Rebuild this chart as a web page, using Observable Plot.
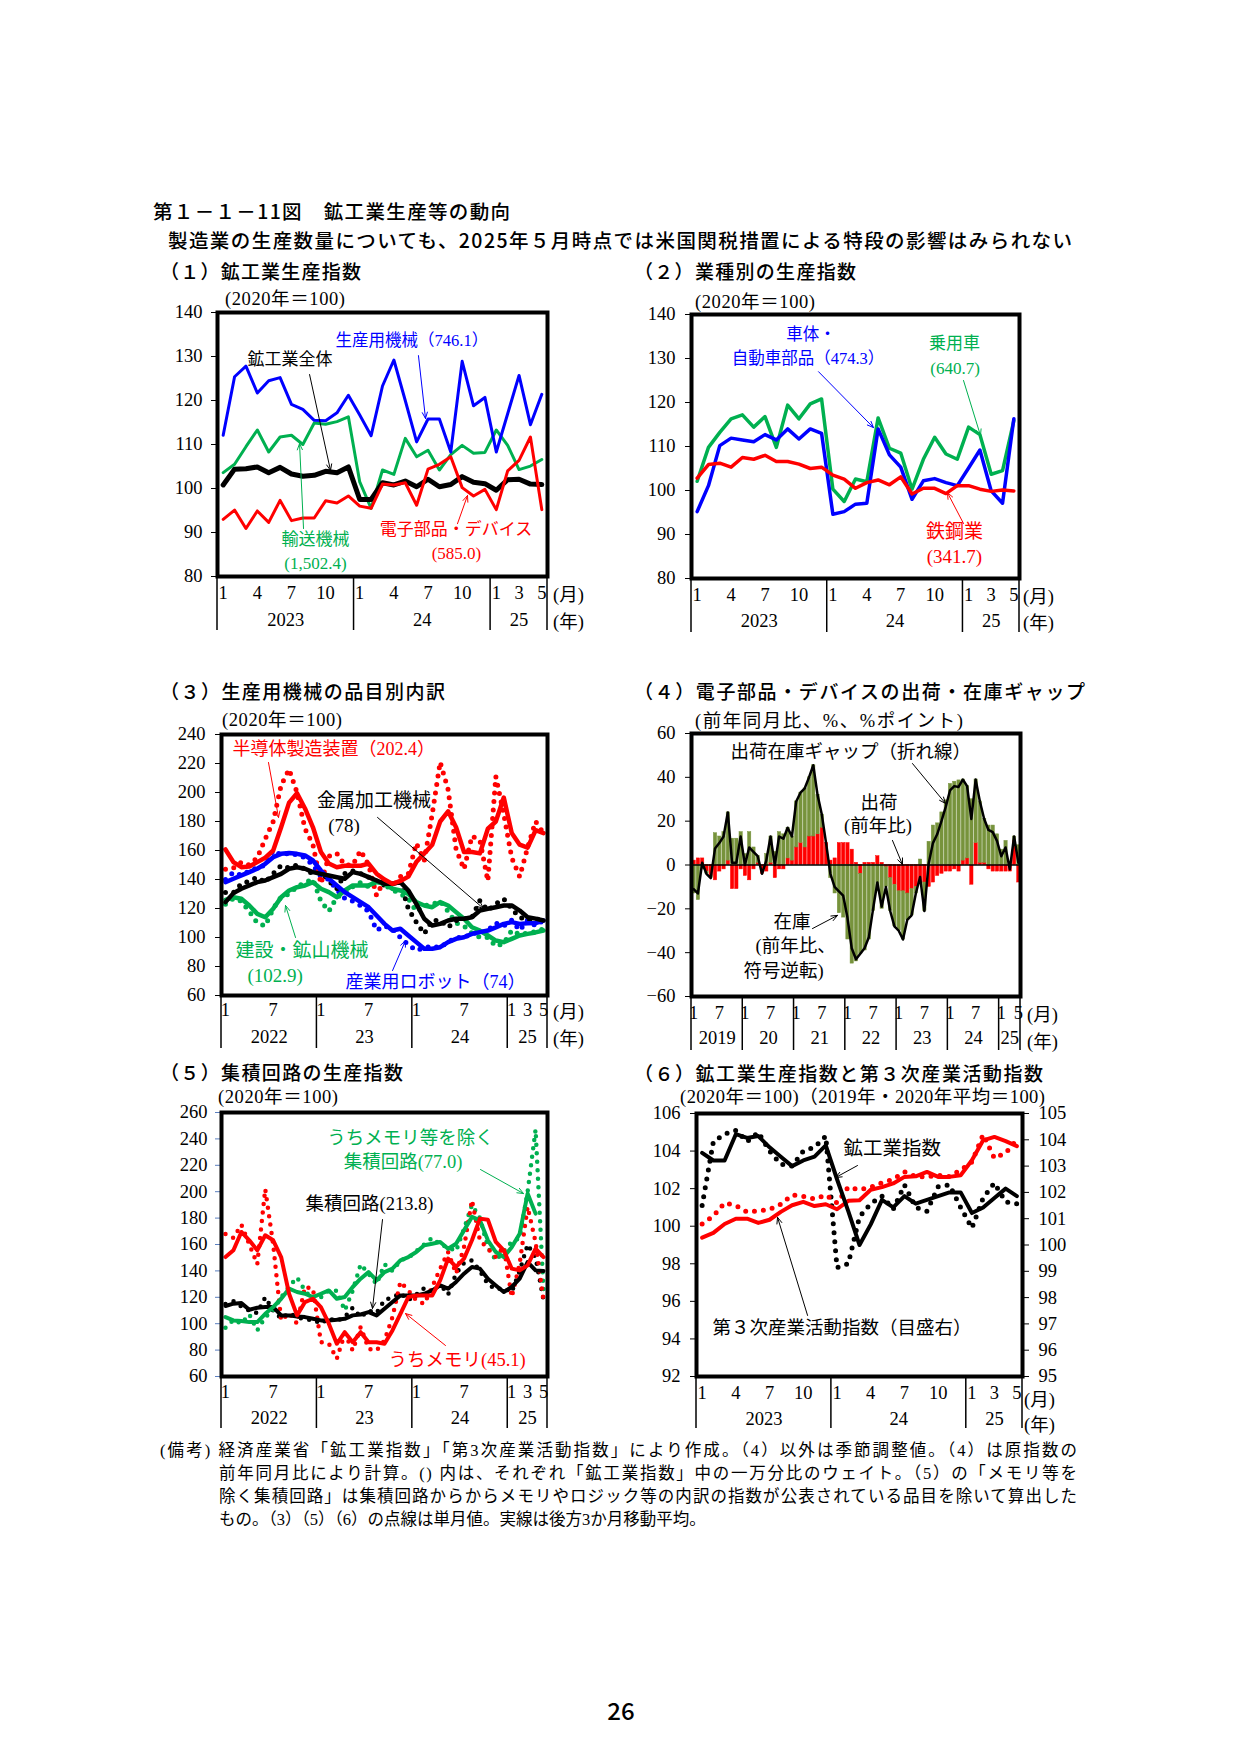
<!DOCTYPE html>
<html><head><meta charset="utf-8">
<script src="https://cdn.jsdelivr.net/npm/d3@7"></script>
<script src="https://cdn.jsdelivr.net/npm/@observablehq/plot@0.6"></script>
<style>
body{margin:0;background:#fff}
#page{position:relative;width:1241px;height:1755px;background:#fff;overflow:hidden}
.t{position:absolute;white-space:nowrap;color:#000;line-height:1}
.goth{font-family:"Noto Sans CJK JP",sans-serif;font-weight:500}
.min{font-family:"Liberation Serif","Noto Sans CJK JP",serif}
.panel{position:absolute}
.panel svg{overflow:visible}
</style></head><body><div id="page"></div>
<script>
// ---------- tick labels ----------
const months29 = [[0,"1"],[3,"4"],[6,"7"],[9,"10"],[12,"1"],[15,"4"],[18,"7"],[21,"10"],[24,"1"],[26,"3"],[28,"5"]];
const years29 = [[6,"2023"],[18,"24"],[26.5,"25"]];
const seps29 = [0,12,24,29];
const months41 = [[0,"1"],[6,"7"],[12,"1"],[18,"7"],[24,"1"],[30,"7"],[36,"1"],[38,"3"],[40,"5"]];
const years41 = [[6,"2022"],[18,"23"],[30,"24"],[38.5,"25"]];
const seps41 = [0,12,24,36,41];
const months77 = [[0,"1"],[6,"7"],[12,"1"],[18,"7"],[24,"1"],[30,"7"],[36,"1"],[42,"7"],[48,"1"],[54,"7"],[60,"1"],[66,"7"],[72,"1"],[76,"5"]];
const years77 = [[6,"2019"],[18,"20"],[30,"21"],[42,"22"],[54,"23"],[66,"24"],[74.5,"25"]];
const seps77 = [0,12,24,36,48,60,72,77];

// ---------- (1) Jan 2023 - May 2025 ----------
const p1Mining = [100.8,104.4,104.5,104.9,103.6,104.8,103.3,102.8,103.0,103.9,103.6,104.9,97.5,97.5,101.3,100.8,101.7,100.4,102.1,100.4,100.9,102.7,101.4,101.1,99.6,102.0,102.1,101.0,100.9];
const p1Machinery = [112.1,125.4,127.8,121.7,124.5,125.2,119.1,118.0,115.5,115.4,117.2,121.2,116.7,112.0,123.3,129.2,120.0,110.6,115.8,115.8,108.3,128.9,118.8,120.7,108.3,117.0,125.7,114.5,121.4];
const p1Transport = [103.6,105.5,109.5,113.3,108.3,111.7,112.1,110.0,114.9,114.6,115.2,116.3,101.5,95.5,104.2,103.2,111.4,107.2,108.7,104.2,107.7,109.8,108.0,108.2,113.3,109.8,104.3,105.1,106.6];
const p1Electronic = [93.0,95.1,90.9,94.9,92.3,97.3,92.7,93.3,93.3,97.2,96.7,98.3,96.0,95.5,101.0,100.8,101.3,96.2,104.4,105.5,107.2,100.2,98.3,99.8,95.2,104.0,106.4,111.7,95.2];

// ---------- (2) ----------
const p2Parts = [95.2,101.1,110.2,111.9,111.5,111.1,112.7,111.5,114.0,111.7,114.0,113.0,94.6,95.2,96.9,97.1,114.0,108.1,105.3,98.0,102.2,102.7,101.8,101.1,105.1,109.2,99.9,97.1,116.3];
const p2Cars = [102.1,109.8,113.2,116.3,117.2,114.4,116.8,109.8,119.4,116.3,119.7,120.8,100.3,97.5,102.6,102.0,116.5,109.6,108.5,100.3,107.1,112.1,108.3,107.1,114.4,112.7,103.7,104.5,115.9];
const p2Steel = [102.8,105.9,106.2,105.3,107.5,107.1,108.0,106.6,106.6,106.0,105.0,105.3,103.5,102.6,100.5,101.8,102.4,101.3,103.1,99.2,100.5,100.5,99.3,101.1,101.1,100.3,99.8,100.1,99.9];

// ---------- (3) Jan 2022 - May 2025 ----------
const p3SemiMA = [160.7,152,148.5,149,152,155,160,176,193,199.5,189,176,159,151,148.5,149.5,149.5,149.5,151,144,140,137,139,142,152,158,164,180,187,176,159,159,158,175,180,196.5,172,164,162,174,172];
const p3Semi = [147,148,152,150,155,168,180,205,216,200,175,164,137,156,158,150,150,160,150,129,140,135,142,144,165,153,185,221,202,161,147,170,167,139,211,185,155,142,162,180,172];
const p3MetalMA = [124.4,130.6,133.6,135.9,138.2,139.3,141.6,143.9,147.4,148.5,147.4,145.1,143.9,142.8,141.6,140.5,145.1,143.9,141.6,139.3,137,137,138.2,132.4,123.2,112.9,108.3,109.4,111.7,112.9,112.9,114,118.6,119.8,120.9,122.1,122.1,118.6,114,113,111.7];
const p3Metal = [131,131,137,139,141.6,138,144,149.7,148,150,147,144,145,139,133.6,144,146,144,141.6,139,136,137,138,119.8,110.6,102.5,111.7,111.7,107,111.7,113,114,125.5,118.6,123.2,126.7,119.8,114,111.7,113,111.7];
const p3RobotMA = [138.2,140.5,142.8,145.1,147.4,150.8,155.4,157.7,158.2,157.7,156.6,153.1,146.2,140.5,135.9,131.3,127.8,124.4,120.9,115.2,109.4,104.8,106,101.4,96.8,92.2,92.2,93.3,96.8,99.1,100.2,102.5,103.7,104.8,107,109.4,110.6,109.4,109.9,110,111.7];
const p3Robot = [140,145,143,146,148,150,160,157,158,157,155,150,142,140,133,127,125,122,118,105,108,106,100,95,91,93,94,93,97,100,100,103,103,105,110,108,112,105,112,108,112];
const p3ConstMA = [126,127.8,126.7,122.1,116.3,114,119.8,127.8,132.4,134.7,135.9,138.2,133.6,131.3,127.8,132.4,135.9,135.9,135.9,138.2,137,133.6,132.4,130.1,124.4,122.1,120.9,124.4,122.1,117.5,112.9,107.1,104.8,101.4,97.9,96.8,99.1,101.4,102.5,103.5,104.8];
const p3Const = [123,127,125,118,110,108,120,128,130,135,138,140,125,118,128,130,135,138,135,140,136,133,130,127,118,122,123,125,118,110,108,103,100,100,94,96,105,102,103,104,106];

// ---------- (4) Jan 2019 - May 2025 ----------
const p4Gap = [-11,-13,1,-4,-6,7.5,10,13,24,1,1,13,0,8,6,4,-4,2,13,0,13,12,17,13,29,33,35,40,45.5,32,23,10,-4,-10,-12,-14,-24,-38,-43,-40.5,-38,-33,-20,-8,-19,-10,-21,-28,-30,-34,-25,-23,-13,-5.5,-21,0.6,10,14,20,26.5,34,36,35.6,39,36,21,39,29,21,16,15,11,4,8,-2,13,1];
const p4Ship = [2,3,3,-3,-5,-7,-3,-2,2,-11,-11,-2,-5,-7,-2,1,-4,-3,1,-6,-2,-2,3,2,8,10,8,13,13,14,17,10,2,3,10,10,10,7,1,-4,1,1,1,4,1,-1,-6,-9,-12,-12,-13,-11,-10,-8,-8,-10,-8,-5,-4,-3,-3,-2,-3,2,3,-9,10,1,1,-2,-3,-3,-3,-3,-3,11,-8];
const p4InvRev = [-13,-16,-2,-1,-1,14.5,13,15,22,12,12,15,5,15,8,3,0,5,12,6,15,14,14,11,21,23,27,27,32.5,18,6,0,-6,-13,-22,-24,-34,-45,-44,-36.5,-39,-34,-21,-12,-20,-9,-15,-19,-18,-22,-12,-12,-3,2.5,-13,10.6,18,19,24,29.5,37,38,38.6,37,33,30,29,28,20,18,18,14,7,11,1,2,9];

// ---------- (5) Jan 2022 - May 2025 ----------
const p5MemMA = [150.5,155.6,169.5,163.2,155.6,167,163.2,150.5,122.7,106.3,116.4,118.9,112.6,100,84.8,93.6,86,93.6,86,86,84.8,94.9,107.5,120.2,121.4,121.4,121.4,132.8,149.3,143,149.3,163.2,179.6,178.8,161.9,155.6,141.7,140.4,144.2,156.8,150.5];
const p5Mem = [168,165,175,160,145,202,160,102.5,108,100,127.8,126.5,86,85,73.4,92.4,79.7,97.4,81,79.7,87.3,105,131.6,125.2,117.6,115,127.8,141.7,154.3,137.9,158,193.5,163.2,156.8,150.5,158,120.2,145.5,188.4,161.9,117.6];
const p5IcMA = [113.4,115.2,115.6,110.6,112.1,112.6,112.6,106.3,106.3,105.5,105,103.7,102.5,102.5,103,103.7,106.3,107,108.8,106.3,111.3,116.4,121.4,121.4,121.4,122.7,125.2,129,126.5,131.6,137.9,143,141.7,134.1,129,124,127.8,134.1,146.7,140.4,140];
const p5Ic = [115,117,113,110,108,120,110,104,108,105,103,103,100,104,102,105,112,105,110,108,118,120,123,118,122,127,125,130,122,138,146,148,140,130,126,127,124,140,160,150,118];
const p5ExMA = [105,102.5,102,101.2,101.2,107.5,112.6,118.9,126.5,124,122.7,120.2,122.7,125.2,118.9,120.2,127.8,134.1,139.1,132.8,139.1,141.7,148,150.5,154.3,159.4,160.6,161.9,156.8,160.6,170.7,180.9,178.3,163.2,154.3,150.5,158,168.2,198.6,183.4,null];
const p5Ex = [97,103,100,107,95,105,110,120,128,135,125,118,120,125,125,110,125,145,138,130,145,140,148,150,155,160,165,160,158,155,172,190,180,158,148,155,162,165,200,247,125];

// ---------- (6) Jan 2023 - May 2025 ----------
const p6MineMA = [103.9,103.5,103.5,104.9,104.7,104.8,104.2,103.7,103.2,103.5,103.7,104.3,102.5,100.8,99.0,100.1,101.4,101.0,101.6,101.2,101.4,101.6,101.8,101.8,100.7,101.0,101.5,102.0,101.6];
const p6Mine = [101.1,104.5,104.9,105.1,104.5,105.0,104.0,103.3,103.2,104.0,104.2,104.8,97.8,98.0,100.5,101.2,101.6,100.9,102.2,101.0,100.8,102.1,102.2,101.0,99.9,101.5,102.3,101.3,101.2];
const p6TertMA = [100.28,100.46,100.8,101.0,101.0,100.84,100.96,101.26,101.51,101.64,101.48,101.55,101.36,101.68,101.7,102.1,102.2,102.34,102.59,102.61,102.78,102.59,102.59,102.65,103.22,103.98,104.11,103.95,103.76];
const p6Tert = [100.8,101.1,101.6,101.5,101.25,101.3,101.35,101.55,101.9,101.85,101.75,101.9,101.6,102.2,102.1,102.2,102.37,102.5,102.78,102.6,102.59,102.65,102.6,102.85,103.16,104.2,103.3,103.5,104.0];

// ---------- helpers ----------
const FONT = "'Liberation Serif','Noto Sans CJK JP',serif";
const FS = 18.5;
const RED = "#ff0000", BLUE = "#0000ff", GREEN = "#00b050", OLIVE = "#77933c";
const ns = "http://www.w3.org/2000/svg";
const page = document.getElementById("page");
const ser = arr => arr.map((v, i) => ({i, v}));

function addText(txt, x, y, o = {}) {
  const d = document.createElement("div");
  d.className = "t " + (o.cls || "min");
  d.textContent = txt;
  d.style.fontSize = (o.size || FS) + "px";
  d.style.color = o.color || "#000";
  page.appendChild(d);
  if (o.width) {
    const w0 = d.getBoundingClientRect().width;
    const n = [...txt].length;
    d.style.letterSpacing = ((o.width - w0) / (n - 1)) + "px";
  }
  const r = d.getBoundingClientRect();
  let left = x;
  if (o.anchor === "middle") left = x - r.width / 2;
  if (o.anchor === "end") left = x - r.width;
  d.style.left = left + "px";
  d.style.top = (y - r.height / 2) + "px";
}

function sepMark(xs, len) {
  return (index, scales, values, dims) => {
    const g = document.createElementNS(ns, "g");
    const y0 = dims.height - dims.marginBottom;
    for (const v of xs) {
      const x = scales.x(v);
      const l = document.createElementNS(ns, "line");
      l.setAttribute("x1", x); l.setAttribute("x2", x);
      l.setAttribute("y1", y0); l.setAttribute("y2", y0 + len);
      l.setAttribute("stroke", "#000"); l.setAttribute("stroke-width", "1.5");
      g.appendChild(l);
    }
    return g;
  };
}

function solid(arr, color, w, yf) {
  return Plot.lineY(ser(arr), {x: d => d.i + 0.5, y: yf || "v", stroke: color, strokeWidth: w, strokeLinejoin: "round", strokeLinecap: "round"});
}
function dotted(arr, color, w, gap, yf) {
  return Plot.lineY(ser(arr), {x: d => d.i + 0.5, y: yf || "v", stroke: color, strokeWidth: w, strokeDasharray: "0 " + gap, strokeLinecap: "round"});
}
function notes(texts, arrows) {
  const m = [];
  for (const a of arrows) m.push(Plot.arrow([a], {x1: "x1", y1: "y1", x2: "x2", y2: "y2", stroke: a.c || "#000", strokeWidth: 1, headLength: 10, headAngle: 45}));
  for (const t of texts) m.push(Plot.text([t], {x: "x", y: "y", text: "t", fill: t.c || "#000", textAnchor: t.a || "start", fontSize: t.s || 17}));
  return m;
}

function makePanel(p) {
  const [L, R, T, B] = p.frame;
  const chart = Plot.plot({
    width: p.width, height: p.height,
    marginLeft: L - p.left, marginRight: p.left + p.width - R,
    marginTop: T - p.top, marginBottom: p.top + p.height - B,
    x: {domain: [0, p.n], axis: null},
    y: {domain: p.yDomain, axis: null, label: null},
    color: p.color,
    style: {fontFamily: FONT, fontSize: FS + "px", color: "#000", background: "transparent", overflow: "visible"},
    marks: [
      ...p.marks,
      Plot.axisY({ticks: p.yTicks, tickSize: 6, tickPadding: p.pad, fontSize: FS, stroke: p.tickColor || "#000", label: null}),
      ...(p.extra || []),
      Plot.text(p.months, {x: d => d[0] + 0.5, text: d => d[1], frameAnchor: "bottom", dy: p.mdy + 5, fontSize: FS}),
      Plot.text(p.years, {x: d => d[0], text: d => d[1], frameAnchor: "bottom", dy: p.ydy + 5, fontSize: FS}),
      sepMark(p.seps, p.sepLen),
      Plot.frame({stroke: "#000", strokeWidth: 4}),
      ...(p.notes || [])
    ]
  });
  const holder = document.createElement("div");
  holder.className = "panel";
  holder.style.left = p.left + "px";
  holder.style.top = p.top + "px";
  holder.appendChild(chart);
  page.appendChild(holder);
}

// ---------- header ----------
addText("第１－１－11図　鉱工業生産等の動向", 153, 211, {cls: "goth", size: 19.5, width: 357});
addText("製造業の生産数量についても、2025年５月時点では米国関税措置による特段の影響はみられない", 168, 240, {cls: "goth", size: 19.5, width: 904});
addText("（１）鉱工業生産指数", 160, 270, {cls: "goth", size: 19, width: 201});
addText("（２）業種別の生産指数", 634, 270, {cls: "goth", size: 19, width: 222});
addText("（３）生産用機械の品目別内訳", 160, 690, {cls: "goth", size: 19, width: 285});
addText("（４）電子部品・デバイスの出荷・在庫ギャップ", 634, 690, {cls: "goth", size: 19, width: 451});
addText("（５）集積回路の生産指数", 160, 1071, {cls: "goth", size: 19, width: 243});
addText("（６）鉱工業生産指数と第３次産業活動指数", 634, 1072, {cls: "goth", size: 19, width: 409});

// unit labels
addText("(2020年＝100)", 225, 299, {width: 120});
addText("(2020年＝100)", 695, 302, {width: 120});
addText("(2020年＝100)", 222, 720, {width: 120});
addText("(前年同月比、%、%ポイント)", 695, 721, {width: 268});
addText("(2020年＝100)", 218, 1097, {width: 120});
addText("(2020年＝100)（2019年・2020年平均＝100)", 680, 1097, {width: 365});
for (const [x, y1, y2] of [[553, 595, 622], [1023, 597, 623], [553, 1012, 1039], [1027, 1015, 1042], [1024, 1400, 1425]]) {
  addText("(月)", x, y1);
  addText("(年)", x, y2);
}

// ---------- panel 1 ----------
makePanel({
  left: 140, top: 302, width: 460, height: 340, frame: [217, 547, 312, 576],
  n: 29, yDomain: [80, 140], yTicks: d3.range(80, 141, 10), pad: 9,
  months: months29, years: years29, seps: seps29, mdy: 17, ydy: 44, sepLen: 54,
  marks: [solid(p1Transport, GREEN, 3), solid(p1Machinery, BLUE, 3), solid(p1Mining, "#000", 5), solid(p1Electronic, RED, 3)],
  notes: notes([
    {x: 10.37, y: 133.6, t: "生産用機械（746.1）", c: BLUE, s: 16.5},
    {x: 2.64, y: 129.3, t: "鉱工業全体"},
    {x: 8.61, y: 88.4, t: "輸送機械", c: GREEN, a: "middle"},
    {x: 8.61, y: 83.0, t: "(1,502.4)", c: GREEN, a: "middle"},
    {x: 20.96, y: 90.7, t: "電子部品・デバイス", c: RED, a: "middle"},
    {x: 21.0, y: 85.2, t: "(585.0)", c: RED, a: "middle"}
  ], [
    {x1: 17.66, y1: 130.2, x2: 18.28, y2: 115.9, c: BLUE},
    {x1: 8.09, y1: 125.9, x2: 9.93, y2: 104.1},
    {x1: 7.56, y1: 90.9, x2: 7.21, y2: 110.2, c: GREEN},
    {x1: 21.09, y1: 92.0, x2: 21.97, y2: 98.4, c: RED}
  ])
});

// ---------- panel 2 ----------
makePanel({
  left: 615, top: 304, width: 475, height: 340, frame: [691, 1019, 314, 578],
  n: 29, yDomain: [80, 140], yTicks: d3.range(80, 141, 10), pad: 10,
  months: months29, years: years29, seps: seps29, mdy: 17, ydy: 43, sepLen: 54,
  marks: [solid(p2Cars, GREEN, 3.5), solid(p2Parts, BLUE, 3.5), solid(p2Steel, RED, 3.5)],
  notes: notes([
    {x: 10.57, y: 135.5, t: "車体・", c: BLUE, a: "middle", s: 16.5},
    {x: 10.30, y: 130.0, t: "自動車部品（474.3）", c: BLUE, a: "middle", s: 16.5},
    {x: 23.25, y: 133.4, t: "乗用車", c: GREEN, a: "middle"},
    {x: 23.3, y: 127.7, t: "(640.7)", c: GREEN, a: "middle"},
    {x: 23.25, y: 90.5, t: "鉄鋼業", c: RED, a: "middle", s: 19},
    {x: 23.25, y: 84.8, t: "(341.7)", c: RED, a: "middle", s: 19}
  ], [
    {x1: 11.23, y1: 127.0, x2: 16.09, y2: 114.3, c: BLUE},
    {x1: 24.05, y1: 125.0, x2: 25.55, y2: 112.5, c: GREEN},
    {x1: 24.05, y1: 92.5, x2: 22.63, y2: 99.5, c: RED}
  ])
});

// ---------- panel 3 ----------
makePanel({
  left: 140, top: 725, width: 460, height: 330, frame: [221, 547, 734, 995],
  n: 41, yDomain: [60, 240], yTicks: d3.range(60, 241, 20), pad: 10,
  months: months41, years: years41, seps: seps41, mdy: 15, ydy: 42, sepLen: 53,
  marks: [
    dotted(p3Const, GREEN, 5, 8.5), dotted(p3Robot, BLUE, 5, 8.5), dotted(p3Metal, "#000", 5, 8.5), dotted(p3Semi, RED, 5, 8.5),
    solid(p3ConstMA, GREEN, 4.5), solid(p3RobotMA, BLUE, 4.5), solid(p3MetalMA, "#000", 4.5), solid(p3SemiMA, RED, 4.5)
  ],
  notes: notes([
    {x: 1.38, y: 229.7, t: "半導体製造装置（202.4）", c: RED, s: 18},
    {x: 19.18, y: 194.5, t: "金属加工機械", a: "middle", s: 19},
    {x: 15.41, y: 177.2, t: "(78)", a: "middle", s: 19},
    {x: 1.76, y: 91.0, t: "建設・鉱山機械", c: GREEN, s: 19},
    {x: 3.27, y: 73.8, t: "(102.9)", c: GREEN, s: 19},
    {x: 15.60, y: 69.0, t: "産業用ロボット（74）", c: BLUE, s: 18}
  ], [
    {x1: 5.91, y1: 220.7, x2: 7.17, y2: 182.8, c: RED},
    {x1: 19.62, y1: 182.8, x2: 32.95, y2: 120.0},
    {x1: 9.31, y1: 100.0, x2: 8.05, y2: 122.1, c: GREEN},
    {x1: 21.51, y1: 77.2, x2: 23.14, y2: 97.9, c: BLUE}
  ])
});

// ---------- panel 4 ----------
const p4Bars = [
  ...p4Ship.map((v, i) => ({i, v, s: "出荷"})),
  ...p4InvRev.map((v, i) => ({i, v, s: "在庫"}))
];
makePanel({
  left: 615, top: 725, width: 475, height: 335, frame: [691, 1020, 733, 996],
  n: 77, yDomain: [-60, 60], yTicks: d3.range(-60, 61, 20), pad: 10,
  color: {domain: ["出荷", "在庫"], range: [RED, OLIVE]},
  months: months77, years: years77, seps: seps77, mdy: 17, ydy: 42, sepLen: 54,
  marks: [
    Plot.rectY(p4Bars, {x: "i", interval: 1, y: "v", fill: "s", stroke: "s", strokeWidth: 0.5}),
    Plot.ruleY([0], {stroke: "#000", strokeWidth: 1.5}),
    solid(p4Gap, "#000", 2.5)
  ],
  notes: notes([
    {x: 9.13, y: 51.3, t: "出荷在庫ギャップ（折れ線）", s: 18.5},
    {x: 43.88, y: 28.1, t: "出荷", a: "middle", s: 18.5},
    {x: 43.65, y: 17.6, t: "(前年比)", a: "middle", s: 18.5},
    {x: 19.19, y: -26.2, t: "在庫", s: 18.5},
    {x: 14.98, y: -37.2, t: "(前年比、", s: 18.5},
    {x: 12.17, y: -48.6, t: "符号逆転)", s: 18.5}
  ], [
    {x1: 51.72, y1: 46.3, x2: 59.44, y2: 28.1},
    {x1: 47.04, y1: 11.2, x2: 49.38, y2: 0.2},
    {x1: 28.32, y1: -29.0, x2: 34.17, y2: -23.0}
  ])
});

// ---------- panel 5 ----------
makePanel({
  left: 140, top: 1104, width: 460, height: 336, frame: [221, 547, 1112, 1376],
  n: 41, yDomain: [60, 260], yTicks: d3.range(60, 261, 20), pad: 8, tickColor: "#5b7fbf",
  months: months41, years: years41, seps: seps41, mdy: 16, ydy: 42, sepLen: 52,
  marks: [
    dotted(p5Ic, "#000", 4.5, 8.5), dotted(p5Ex, GREEN, 4.5, 8.5), dotted(p5Mem, RED, 4.5, 8.5),
    solid(p5IcMA, "#000", 4), solid(p5ExMA, GREEN, 4), solid(p5MemMA, RED, 4)
  ],
  notes: notes([
    {x: 23.77, y: 240.3, t: "うちメモリ等を除く", c: GREEN, a: "middle", s: 18.5},
    {x: 22.83, y: 222.1, t: "集積回路(77.0)", c: GREEN, a: "middle", s: 18.5},
    {x: 10.56, y: 190.3, t: "集積回路(213.8)", s: 18.5},
    {x: 21.0, y: 72.1, t: "うちメモリ(45.1)", c: RED, s: 18.5}
  ], [
    {x1: 32.57, y1: 216.8, x2: 37.98, y2: 198.6, c: GREEN},
    {x1: 20.25, y1: 178.9, x2: 18.99, y2: 111.5},
    {x1: 28.17, y1: 83.5, x2: 23.14, y2: 107.7, c: RED}
  ])
});

// ---------- panel 6 ----------
const toLeft = d3.scaleLinear([95, 105], [92, 106]);
makePanel({
  left: 615, top: 1104, width: 480, height: 336, frame: [696, 1022, 1113, 1376],
  n: 29, yDomain: [92, 106], yTicks: d3.range(92, 107, 2), pad: 10,
  months: months29, years: years29, seps: seps29, mdy: 17, ydy: 43, sepLen: 52,
  marks: [
    dotted(p6Mine, "#000", 5, 9), dotted(p6Tert, RED, 5, 9, d => toLeft(d.v)),
    solid(p6TertMA, RED, 4, d => toLeft(d.v)), solid(p6MineMA, "#000", 4)
  ],
  extra: [
    Plot.axisY({anchor: "right", ticks: d3.range(95, 106).map(t => toLeft(t)), tickFormat: d => String(Math.round(toLeft.invert(d))), tickSize: 6, tickPadding: 10, fontSize: FS, label: null})
  ],
  notes: notes([
    {x: 13.08, y: 104.14, t: "鉱工業指数", s: 19.5},
    {x: 1.42, y: 94.56, t: "第３次産業活動指数（目盛右）", s: 18.5}
  ], [
    {x1: 14.32, y1: 103.23, x2: 12.37, y2: 102.59},
    {x1: 9.88, y1: 95.25, x2: 7.21, y2: 100.47}
  ])
});

// ---------- footnote ----------
addText("(備考) 経済産業省「鉱工業指数」「第3次産業活動指数」により作成。（4）以外は季節調整値。（4）は原指数の", 160, 1451, {size: 16.5, width: 917});
addText("前年同月比により計算。() 内は、それぞれ「鉱工業指数」中の一万分比のウェイト。（5）の「メモリ等を", 219, 1474, {size: 16.5, width: 858});
addText("除く集積回路」は集積回路からからメモリやロジック等の内訳の指数が公表されている品目を除いて算出した", 219, 1497, {size: 16.5, width: 858});
addText("もの。（3）（5）（6）の点線は単月値。実線は後方3か月移動平均。", 219, 1520, {size: 16.5});
addText("26", 621, 1710, {cls: "goth", size: 24, anchor: "middle"});
</script></body></html>
